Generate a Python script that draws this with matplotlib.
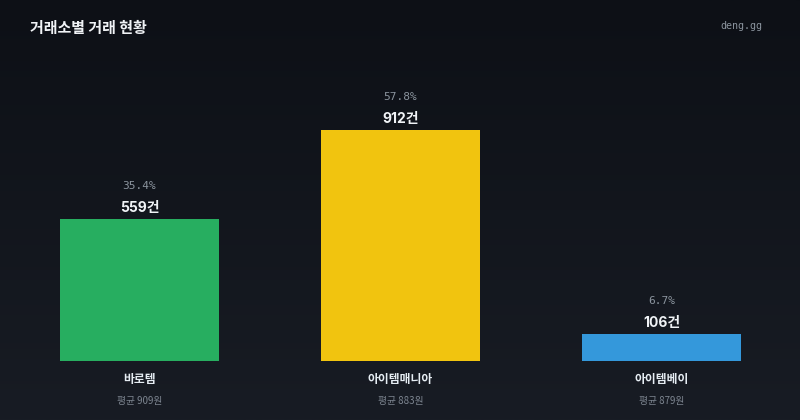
import matplotlib.pyplot as plt
import numpy as np

plt.rcParams['font.family'] = ['Noto Sans CJK KR', 'DejaVu Sans']

names = ['바로템', '아이템매니아', '아이템베이']
counts = [559, 912, 106]
shares = [35.4, 57.8, 6.7]
avg_price = [909, 883, 879]
colors = ['#27ae60', '#f1c40f', '#3498db']

fig = plt.figure(figsize=(8, 4.2), dpi=100)

# background gradient
bg = fig.add_axes([0, 0, 1, 1], zorder=-1)
grad = np.linspace(0, 1, 256).reshape(-1, 1)
top = np.array([13, 16, 22]) / 255
bot = np.array([24, 28, 36]) / 255
img = top + (bot - top) * grad[:, :, None]
bg.imshow(img, aspect='auto', extent=[0, 1, 0, 1])
bg.axis('off')

ax = fig.add_axes([9 / 800, 59 / 420, 783 / 800, 301 / 420])
ax.set_facecolor('none')
x = np.arange(len(names))
ax.bar(x, counts, width=159 / 261, color=colors)
ax.set_xlim(-0.5, 2.5)
ax.set_ylim(0, max(counts) * 301 / 231)
ax.axis('off')

for i, c in enumerate(counts):
    ax.annotate(f'{c}건', (x[i], c), xytext=(0, 11), textcoords='offset pixels',
                ha='center', va='center', color='#f0f3f6', fontsize=10,
                fontweight='bold', family=['Inter', 'Noto Sans CJK KR'])
    ax.annotate(f'{shares[i]}%', (x[i], c), xytext=(0, 33), textcoords='offset pixels',
                ha='center', va='center', color='#8b949e', fontsize=8,
                family='DejaVu Sans Mono')
    ax.annotate(names[i], (x[i], 0), xytext=(0, -19), textcoords='offset pixels',
                ha='center', va='center', color='#e6edf3', fontsize=8.5,
                fontweight='bold')
    ax.annotate(f'평균 {avg_price[i]}원', (x[i], 0), xytext=(0, -40),
                textcoords='offset pixels', ha='center', va='center',
                color='#7d8590', fontsize=7)

fig.text(30 / 800, 1 - 28 / 420, '거래소별 거래 현황', color='#f0f3f6', fontsize=10.8,
         fontweight='bold', ha='left', va='center')
fig.text(762 / 800, 1 - 26 / 420, 'deng.gg', color='#8b949e', fontsize=7.2,
         family='DejaVu Sans Mono', ha='right', va='center')

fig.savefig('out.png', dpi=100)
